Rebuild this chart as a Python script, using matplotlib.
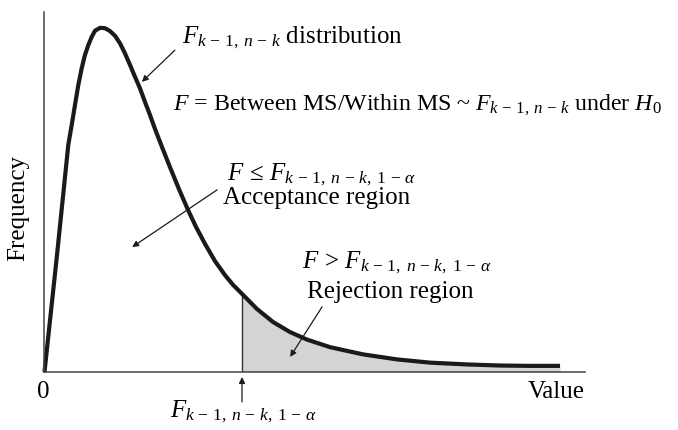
import numpy as np
import matplotlib
matplotlib.use('Agg')
import matplotlib.pyplot as plt

plt.rcParams['font.family'] = 'Liberation Serif'
plt.rcParams['mathtext.fontset'] = 'custom'
plt.rcParams['mathtext.rm'] = 'Liberation Serif'
plt.rcParams['mathtext.it'] = 'Liberation Serif:italic'

# F density curve (value, frequency)
value = [0.009, 0.246, 0.449, 0.512, 0.573, 0.634, 0.697, 0.758, 0.819, 0.882,
         0.943, 1.035, 1.128, 1.220, 1.312, 1.405, 1.497, 1.590, 1.682, 1.774,
         1.867, 1.959, 2.052, 2.181, 2.329, 2.495, 2.662, 2.810, 2.976, 3.161,
         3.346, 3.494, 3.660, 3.937, 4.233, 4.547, 4.861, 5.287, 5.896, 6.525,
         7.135, 7.819, 8.429, 8.983, 9.538]
freq = [0.0, 0.333, 0.631, 0.686, 0.742, 0.797, 0.844, 0.881, 0.908, 0.931,
        0.948, 0.956, 0.955, 0.947, 0.934, 0.913, 0.885, 0.853, 0.820, 0.788,
        0.750, 0.714, 0.675, 0.625, 0.569, 0.508, 0.450, 0.403, 0.356, 0.308,
        0.269, 0.242, 0.217, 0.175, 0.139, 0.111, 0.090, 0.069, 0.049, 0.035,
        0.026, 0.021, 0.018, 0.017, 0.017]
crit = 3.66      # critical value F_{k-1,n-k,1-alpha}
crit_freq = 0.217

value = np.array(value)
freq = np.array(freq)

fig = plt.figure(figsize=(6.78, 4.30), dpi=100)
ax = fig.add_axes([44/678, 58/430, 541/678, 360/430])
ax.set_xlim(0, 10)
ax.set_ylim(0, 1)

# rejection region
tail = value >= crit
ax.fill_between(value[tail], 0, freq[tail], color='#d4d4d4', lw=0)
ax.plot([crit, crit], [0, crit_freq], color='#333333', lw=1.0)
ax.plot(value, freq, color='#1a1a1a', lw=3.0, solid_joinstyle='round',
        solid_capstyle='butt', clip_on=False)

for s in ['top', 'right']:
    ax.spines[s].set_visible(False)
for s in ['left', 'bottom']:
    ax.spines[s].set_color('#444444')
    ax.spines[s].set_linewidth(1.1)
ax.set_xticks([])
ax.set_yticks([])

fs = 18
arr = dict(arrowstyle='-|>', color='#1a1a1a', lw=0.9, mutation_scale=9,
           shrinkA=0, shrinkB=0)

sub2 = r'F_{k\,-\,1,\;n\,-\,k}'
sub3 = r'F_{k\,-\,1,\;n\,-\,k,\;1\,-\,\alpha}'

ax.text(2.55, 0.914, '$' + sub2 + '$ distribution', fontsize=fs, va='baseline')
ax.annotate('', xy=(1.81, 0.806), xytext=(2.42, 0.894), arrowprops=arr)

ax.text(2.38, 0.728,
        '$F$ = Between MS/Within MS ~ $' + sub2 + '$ under $H_0$',
        fontsize=17.2, va='baseline', clip_on=False)

ax.text(3.38, 0.533, r'$F\,\leq\,' + sub3 + '$', fontsize=fs, va='baseline')
ax.text(3.31, 0.468, 'Acceptance region', fontsize=fs, va='baseline')
ax.annotate('', xy=(1.63, 0.347), xytext=(3.20, 0.506), arrowprops=arr)

ax.text(4.77, 0.289, r'$F\,>\,' + sub3 + '$', fontsize=fs, va='baseline')
ax.text(4.86, 0.206, 'Rejection region', fontsize=fs, va='baseline')
ax.annotate('', xy=(4.55, 0.042), xytext=(5.14, 0.181), arrowprops=arr)

ax.text(2.33, -0.125, '$' + sub3 + '$', fontsize=fs, va='baseline')
ax.annotate('', xy=(crit, -0.014), xytext=(crit, -0.083), arrowprops=arr,
            annotation_clip=False)

ax.text(-0.02, -0.072, '0', fontsize=fs, va='baseline', ha='center')
ax.text(10.0, -0.072, 'Value', fontsize=fs, va='baseline', ha='right')
ax.text(-0.48, 0.456, 'Frequency', fontsize=fs, va='center', ha='center',
        rotation=90)

fig.savefig('out.png', dpi=100)
